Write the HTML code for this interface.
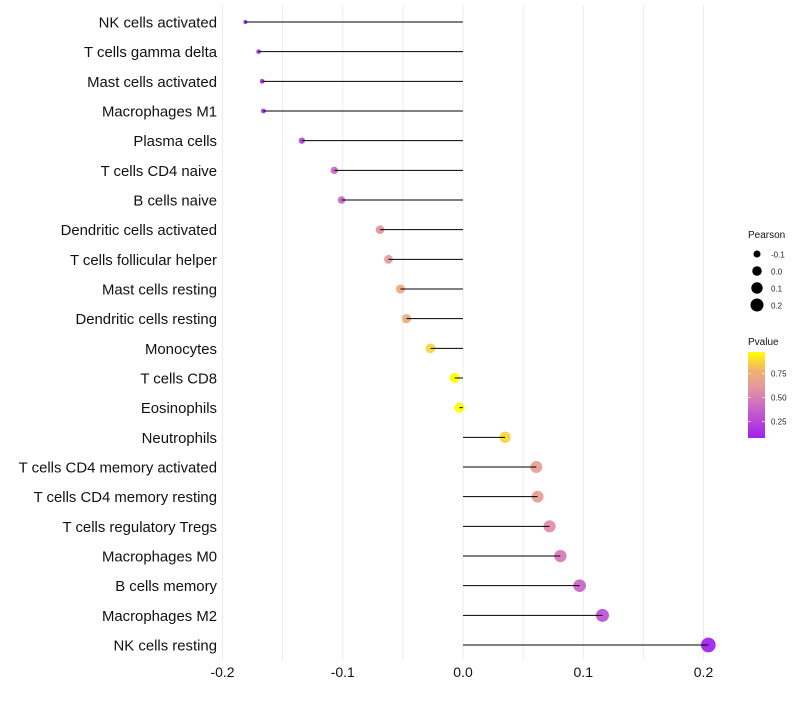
<!DOCTYPE html>
<html><head><meta charset="utf-8"><style>
body{margin:0;background:#fff;font-family:"Liberation Sans",sans-serif}
</style></head><body>
<svg id="c" width="800" height="700" xmlns="http://www.w3.org/2000/svg">
<defs><linearGradient id="pg" x1="0" y1="1" x2="0" y2="0">
<stop offset="0" stop-color="#a020f0"/><stop offset="0.4" stop-color="#d070c0"/><stop offset="0.6" stop-color="#e59a9a"/><stop offset="0.78" stop-color="#f0b070"/><stop offset="1" stop-color="#ffff00"/>
</linearGradient></defs>
</svg>
<script>
const cells=["NK cells activated","T cells gamma delta","Mast cells activated","Macrophages M1","Plasma cells","T cells CD4 naive","B cells naive","Dendritic cells activated","T cells follicular helper","Mast cells resting","Dendritic cells resting","Monocytes","T cells CD8","Eosinophils","Neutrophils","T cells CD4 memory activated","T cells CD4 memory resting","T cells regulatory  Tregs ","Macrophages M0","B cells memory","Macrophages M2","NK cells resting"];
const pearson=[-0.181,-0.170,-0.167,-0.166,-0.134,-0.107,-0.101,-0.069,-0.062,-0.052,-0.047,-0.027,-0.007,-0.003,0.035,0.061,0.062,0.072,0.081,0.097,0.116,0.204];
const pvalue=[0.08,0.12,0.13,0.14,0.25,0.38,0.4,0.58,0.62,0.72,0.75,0.87,0.97,0.97,0.87,0.64,0.63,0.56,0.48,0.38,0.3,0.08];
const xTicks=[-0.2,-0.1,0.0,0.1,0.2];
const xTickLabels=["-0.2","-0.1","0.0","0.1","0.2"];
const sizeLegend=[-0.1,0.0,0.1,0.2];
const colorTicks=[0.25,0.5,0.75];
const svg=document.getElementById('c');const NS="http://www.w3.org/2000/svg";
function x(v){return 463+v*1202.5;}
function y(i){return 22+i*29.667;}
function r(v){return Math.sqrt(Math.max(2.5,27.5+130*v));}
const stops=[[0,[160,32,240]],[0.4,[208,112,192]],[0.6,[229,154,154]],[0.78,[240,176,112]],[1,[255,255,0]]];
function col(p){const t=Math.min(1,Math.max(0,(p-0.08)/(0.97-0.08)));
for(let k=1;k<stops.length;k++){if(t<=stops[k][0]){const a=stops[k-1],b=stops[k];const u=(t-a[0])/(b[0]-a[0]);
return 'rgb('+a[1].map((c,i)=>Math.round(c+(b[1][i]-c)*u)).join(',')+')';}}return 'rgb(255,255,0)';}
function el(t,a,txt){const e=document.createElementNS(NS,t);for(const k in a)e.setAttribute(k,a[k]);if(txt!=null)e.textContent=txt;svg.appendChild(e);return e;}
for(let v=-0.2;v<=0.2001;v+=0.05){const g=el('line',{x1:x(v),x2:x(v),y1:5,y2:660,stroke:'#ebebeb','stroke-width':1});

}
xTicks.forEach((v,i)=>{const t=el('text',{x:x(v),y:677,'text-anchor':'middle','font-size':14,fill:'#111'},xTickLabels[i]);

});
cells.forEach((c,i)=>{
const l=el('text',{x:217,y:y(i)+5.5,'text-anchor':'end','font-size':14.9,fill:'#111'},c);


const p=el('circle',{cx:x(pearson[i]),cy:y(i),r:r(pearson[i]),fill:col(pvalue[i]),'fill-opacity':0.92});


const s=el('line',{x1:x(0),x2:x(pearson[i]),y1:y(i),y2:y(i),stroke:'#000','stroke-width':1});


});
const lt=el('text',{x:748,y:238,'font-size':10,fill:'#111'},'Pearson');


sizeLegend.forEach((v,i)=>{const cy=254+i*17;
const d=el('circle',{cx:757,cy:cy,r:r(v)*0.85+0.3,fill:'#000'});


const t=el('text',{x:771,y:cy+3.5,'font-size':8,fill:'#222'},v.toFixed(1));

});
const ct=el('text',{x:748,y:345,'font-size':10,fill:'#111'},'Pvalue');


const bar=el('rect',{x:748,y:352,width:17,height:86,fill:'url(#pg)'});


colorTicks.forEach(v=>{const yy=438-(v-0.08)/(0.97-0.08)*86;
el('line',{x1:748,x2:751,y1:yy,y2:yy,stroke:'#fff','stroke-width':0.6});
el('line',{x1:762,x2:765,y1:yy,y2:yy,stroke:'#fff','stroke-width':0.6});
const t=el('text',{x:771,y:yy+3,'font-size':8,fill:'#222'},v.toFixed(2));

});
</script>
</body></html>
